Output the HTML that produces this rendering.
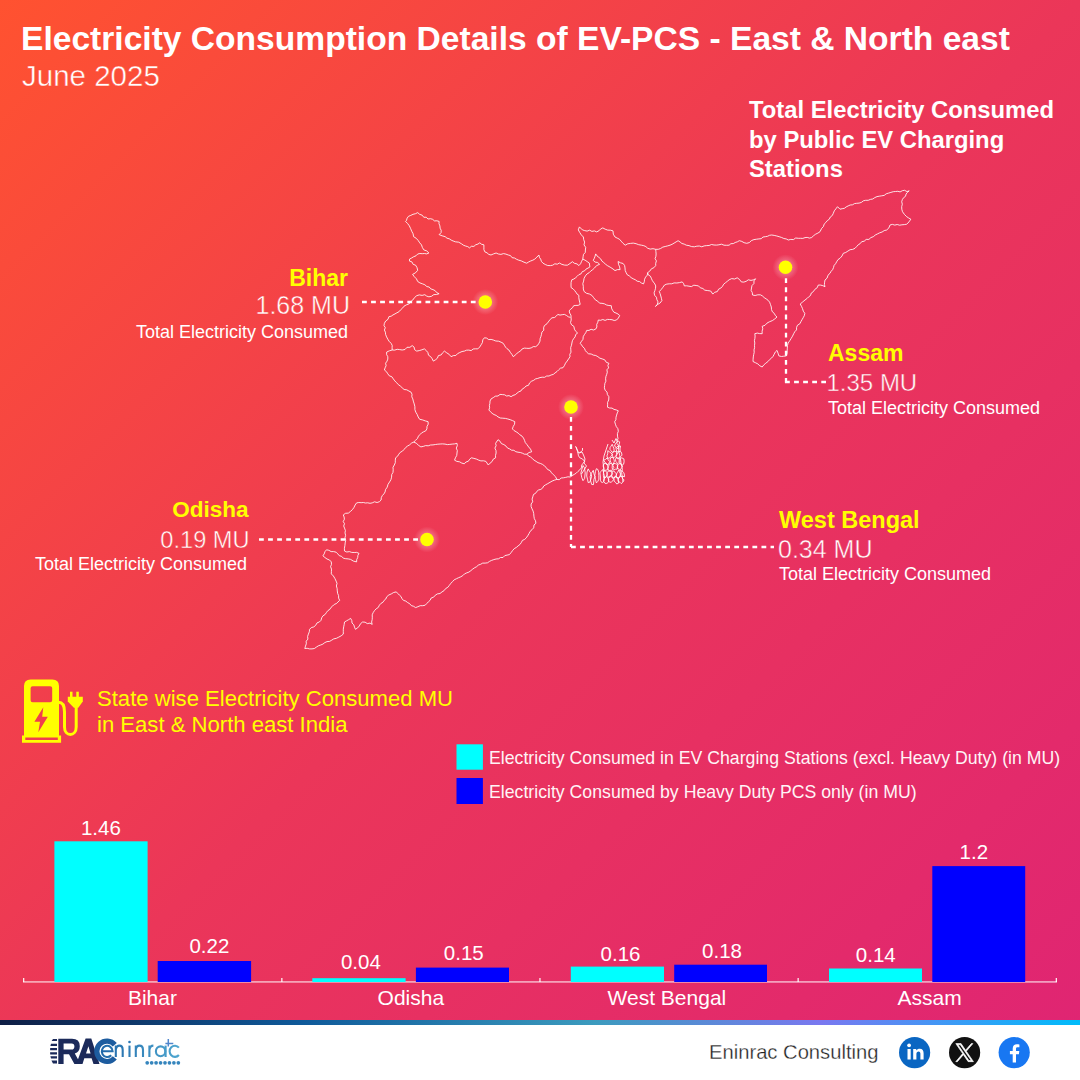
<!DOCTYPE html>
<html><head><meta charset="utf-8">
<style>
*{margin:0;padding:0;box-sizing:border-box}
html,body{width:1080px;height:1080px;overflow:hidden;background:#fff}
body{position:relative;font-family:"Liberation Sans",sans-serif}
#bg{position:absolute;left:0;top:0;width:1080px;height:1020px;background:linear-gradient(135deg,#FF5230 0%,#EB3659 50%,#DF2474 100%);background-size:1080px 1080px}
#stripe{position:absolute;left:0;top:1020px;width:1080px;height:5px;background:linear-gradient(90deg,#0E1E45 0%,#0F5A9A 28%,#3C9BBE 55%,#7A78F0 76%,#00BCFA 100%)}
.t{position:absolute;white-space:nowrap;line-height:1;color:#fff}
.b{font-weight:bold}
.y{color:#FFFF00}
.r{text-align:right}
svg{position:absolute;left:0;top:0}
</style></head><body>
<div id="bg"></div>
<div id="stripe"></div>

<div class="t b" id="title" style="left:21px;top:22px;font-size:33.6px">Electricity Consumption Details of EV-PCS - East &amp; North east</div>
<div class="t" id="june" style="left:22px;top:60.5px;font-size:29.5px;-webkit-text-stroke:0.45px #FC4E36">June 2025</div>

<div class="t b" id="tot1" style="left:749px;top:98px;font-size:23.8px">Total Electricity Consumed</div>
<div class="t b" id="tot2" style="left:749px;top:128px;font-size:23.8px">by Public EV Charging</div>
<div class="t b" id="tot3" style="left:749px;top:157px;font-size:23.8px">Stations</div>

<!-- Bihar -->
<div class="t b y" style="right:732px;top:267px;font-size:23px">Bihar</div>
<div class="t" style="right:730px;top:293.4px;font-size:25px;-webkit-text-stroke:0.45px #F44247">1.68 MU</div>
<div class="t" style="right:732px;top:323px;font-size:18px">Total Electricity Consumed</div>
<!-- Assam -->
<div class="t b y" style="left:828px;top:342px;font-size:23px">Assam</div>
<div class="t" style="left:826.5px;top:370.9px;font-size:24px;-webkit-text-stroke:0.45px #E9335D">1.35 MU</div>
<div class="t" style="left:828px;top:398.5px;font-size:18px">Total Electricity Consumed</div>
<!-- West Bengal -->
<div class="t b y" style="left:779px;top:508.5px;font-size:23.5px">West Bengal</div>
<div class="t" style="left:778px;top:537px;font-size:25px;-webkit-text-stroke:0.45px #E83160">0.34 MU</div>
<div class="t" style="left:779px;top:565px;font-size:18px">Total Electricity Consumed</div>
<!-- Odisha -->
<div class="t b y" style="right:831.5px;top:498.9px;font-size:22.5px">Odisha</div>
<div class="t" style="right:830.5px;top:529.2px;font-size:23.6px;-webkit-text-stroke:0.45px #F13F4C">0.19 MU</div>
<div class="t" style="right:833px;top:555px;font-size:18px">Total Electricity Consumed</div>

<svg width="1080" height="1080" viewBox="0 0 1080 1080">
<defs>
<radialGradient id="glow"><stop offset="0" stop-color="#fff" stop-opacity="0.5"/><stop offset="1" stop-color="#fff" stop-opacity="0"/></radialGradient>
</defs>
<g fill="none" stroke="#fff" stroke-opacity="0.85" stroke-width="1" stroke-linejoin="round">
<polyline points="406.5,220.4 407.1,218.2 408.5,216.3 410.8,215.4 413.0,214.3 415.5,213.7 417.7,212.6 419.6,214.3 422.2,215.2 423.8,217.3 426.2,217.2 428.0,219.0 430.5,218.7 432.6,219.3 434.5,220.9 436.9,220.8 439.1,221.4 439.0,223.7 439.9,225.9 440.1,228.2 441.2,230.3 441.1,232.6 439.1,234.6 442.1,235.8 445.2,236.7 447.0,238.2 449.3,238.8 451.2,240.1 453.2,241.0 455.4,241.8 458.7,242.2 461.5,243.8 463.4,245.2 465.5,246.0 467.7,246.6 469.6,247.9 471.3,246.3 473.9,246.4 475.7,244.8 477.9,244.1 479.8,242.8 481.6,244.3 483.9,244.8 483.9,247.2 483.9,249.6 484.9,251.9 487.0,252.8 488.8,254.4 491.0,255.0 493.5,253.9 496.1,253.0 498.4,254.0 500.9,254.4 503.5,253.6 505.9,254.1 508.3,255.0 510.5,255.6 512.1,257.7 514.5,258.0 516.4,259.2 518.5,260.1 521.3,260.9 524.0,262.2 526.7,263.2 528.6,262.0 530.6,261.0 532.8,260.2 534.8,259.1 536.9,257.1 538.9,255.0 539.4,257.3 540.7,259.2 541.4,261.4 543.0,263.2 545.3,264.5 547.7,265.5 550.4,265.6 552.7,265.2 554.8,263.8 557.3,264.2 559.4,263.0 561.9,264.4 564.6,265.1 567.4,265.2 570.0,263.5 572.4,261.7 574.4,263.3 577.0,263.9 578.9,265.6 580.6,263.7 581.6,261.3 582.8,259.1 583.1,256.7 583.5,254.4 585.3,252.4 585.4,250.0 585.7,247.3 584.0,244.9 584.6,242.1 583.7,239.6 583.4,237.0 581.3,234.9 579.7,232.4 578.3,229.9 579.4,226.9 582.4,229.9 584.7,230.6 587.1,231.1 589.6,230.2 591.9,231.4 594.4,230.9 596.7,231.9 598.9,230.8 600.6,229.0 602.8,227.9 605.2,229.2 607.7,230.1 610.4,230.2 613.0,230.9 613.3,234.2 615.0,237.0 617.2,238.1 619.4,239.2 621.1,241.1 623.0,243.3 625.2,245.2 627.7,243.8 630.5,243.4 633.3,243.1 636.1,243.7 638.7,244.7 641.5,245.2 643.8,245.7 645.9,246.6 647.6,248.2 650.2,249.1 653.0,248.7 655.7,249.3 658.3,249.3 660.6,248.5 662.8,247.1 665.2,246.5 667.6,245.9 670.0,245.2 672.1,244.3 674.1,243.1 676.1,241.9 678.1,240.7 680.1,242.0 681.9,243.5 684.2,244.1 686.3,245.2 689.0,245.6 691.6,246.6 694.4,246.8 696.8,246.2 699.3,246.0 701.8,246.8 704.2,245.9 706.7,245.6 709.1,245.5 711.5,244.5 714.0,245.0 716.5,245.1 718.9,244.8 721.5,244.2 724.0,245.2 726.5,245.3 729.1,245.2 730.9,243.7 733.3,243.6 735.2,242.5 737.4,241.8 739.3,240.7 741.8,241.4 744.1,242.7 746.7,243.3 749.3,242.6 751.4,240.6 753.9,239.6 756.7,239.2 758.9,238.9 761.2,238.7 763.0,237.0 765.3,236.7 767.5,236.3 769.5,235.3 771.7,235.0 774.2,235.4 776.8,236.0 779.2,236.7 781.7,237.5 783.8,238.5 786.2,238.9 788.3,240.0 790.8,239.4 793.4,239.6 795.7,238.0 798.3,238.3 800.5,238.3 802.8,238.4 805.0,237.6 807.2,237.4 809.5,238.1 811.7,237.5 813.6,235.7 815.6,234.2 817.9,233.1 820.0,231.7 821.7,228.3 823.4,226.6 824.1,224.2 825.8,222.5 827.3,220.6 829.3,219.2 830.3,217.0 832.3,215.5 833.3,213.3 834.3,210.8 835.9,208.8 837.5,206.7 840.0,209.2 842.2,208.7 844.4,208.3 846.2,206.9 848.2,205.9 850.2,205.0 852.5,204.8 854.5,203.6 856.7,203.3 859.1,203.1 861.4,202.4 863.4,200.8 865.7,200.3 868.2,200.3 870.4,199.4 872.7,199.0 874.8,197.6 877.0,196.6 879.3,196.2 881.7,195.8 884.2,195.4 886.2,193.8 888.6,193.1 890.9,192.4 893.3,191.7 895.6,191.5 897.8,191.3 900.1,191.9 902.4,190.7 904.6,190.3 907.0,191.6 909.2,190.8 907.5,192.3 906.1,194.0 905.5,196.3 903.6,197.7 902.4,199.5 901.7,201.7 902.3,204.2 901.7,206.7 901.8,209.2 902.5,211.7 904.4,214.4 906.7,216.7 908.7,218.0 910.8,219.2 909.0,221.9 906.7,224.2 904.3,224.6 901.9,224.8 899.6,225.2 897.2,224.5 894.8,225.1 892.4,224.4 890.0,225.0 888.9,227.9 886.7,230.0 884.2,230.6 882.1,232.0 879.7,232.8 877.5,233.9 875.3,235.0 873.3,236.7 870.9,237.6 868.9,239.4 866.2,239.4 864.2,241.2 861.7,241.7 860.2,243.6 858.2,244.8 856.6,246.6 855.0,248.3 852.7,249.4 850.1,249.7 847.9,251.1 845.7,252.5 843.3,253.3 842.0,256.0 840.0,258.3 838.0,259.6 836.7,261.7 835.6,263.7 834.1,265.4 833.5,267.6 832.6,269.7 831.1,271.3 830.0,273.3 828.0,275.2 827.1,278.1 825.0,280.0 824.6,282.2 824.4,284.5 825.0,286.7 822.9,285.7 820.7,285.1 818.3,285.0 817.2,287.7 814.8,289.4 813.3,291.7 811.3,293.0 810.5,295.5 808.6,296.9 806.9,298.6 805.0,300.0 802.6,302.0 800.2,304.0 801.5,306.3 802.5,308.6 803.3,311.2 804.8,313.3 804.3,315.7 803.2,317.7 802.0,319.7 800.9,321.7 799.8,323.8 797.5,325.2 796.6,327.3 796.5,329.9 794.8,331.7 793.7,333.7 792.5,336.2 791.1,338.5 789.7,340.8 788.1,343.0 787.5,345.5 787.3,348.1 787.2,350.8 787.1,353.4 786.3,355.9 783.8,356.2 781.4,356.5 778.9,355.9 778.0,353.1 777.0,350.4 775.3,352.0 774.2,354.2 773.1,356.3 771.5,358.1 769.6,359.6 767.9,361.6 765.8,363.2 763.8,364.9 762.2,367.0 759.8,365.8 757.8,363.9 755.4,362.7 753.0,361.5 753.1,359.2 753.3,356.9 753.7,354.6 754.2,352.3 754.0,349.9 754.6,347.7 754.5,345.3 754.8,343.0 754.4,340.7 754.9,338.4 755.1,336.0 754.8,333.7 757.3,333.1 759.7,333.6 762.2,333.7 762.1,331.2 762.8,328.8 762.2,326.3 765.0,325.3 767.0,323.1 769.6,321.7 772.4,320.6 774.8,318.9 777.0,317.0 775.3,315.4 774.2,313.3 772.4,311.8 771.5,309.6 771.3,307.0 770.5,304.6 769.6,302.2 768.1,300.3 766.2,298.9 764.2,297.6 762.5,296.0 760.4,294.8 757.8,294.8 755.1,295.5 752.5,295.0 752.3,292.6 751.1,290.4 751.5,288.0 752.0,285.5 753.9,283.6 754.0,280.8 755.6,278.8 753.3,279.9 751.0,280.4 748.3,279.8 746.2,281.3 743.8,282.1 741.3,281.9 739.6,279.5 737.2,277.8 734.6,279.0 731.7,278.6 729.1,279.8 727.3,281.3 725.5,282.7 723.7,284.2 722.5,286.3 720.9,288.0 718.6,289.2 717.3,291.6 714.6,292.3 712.8,294.1 710.7,291.0 707.8,290.6 704.8,290.2 702.9,288.5 700.3,287.8 698.5,285.9 696.1,285.5 693.8,285.2 691.4,286.6 689.0,286.2 686.7,285.8 684.3,285.9 683.7,283.7 682.2,281.9 679.5,282.6 676.9,283.0 674.1,282.9 671.8,283.8 669.3,283.8 666.8,284.1 664.5,285.0 662.9,287.3 661.2,289.5 659.3,291.5 660.1,293.7 660.8,296.0 661.4,298.3 661.9,300.6 660.1,303.0 657.6,304.5 655.4,306.4 657.3,304.5 658.0,301.9 656.9,299.7 656.4,297.2 654.6,295.3 654.1,292.8 654.9,290.6 655.5,288.3 655.7,285.9 654.8,283.9 653.4,282.1 652.2,280.3 651.3,278.2 650.4,276.2 648.3,274.9 647.6,272.7 647.3,275.1 645.6,277.1 644.6,279.2 644.3,281.7 643.5,283.9 641.4,283.0 639.6,281.6 637.2,281.2 635.4,279.8 633.2,278.8 631.1,277.6 629.3,275.9 627.2,274.7 626.1,272.6 625.2,270.4 625.0,267.9 624.6,265.5 623.1,263.5 620.5,262.8 618.1,261.5 618.5,264.3 619.6,266.9 620.1,269.6 617.4,269.6 615.0,270.6 613.0,269.0 610.9,267.6 607.4,265.6 605.5,264.2 603.8,262.6 601.9,261.1 600.7,258.9 598.9,257.4 597.0,255.9 595.7,253.9 595.1,256.1 594.3,258.3 593.2,260.4 595.1,262.1 597.7,262.5 599.6,264.3 596.6,265.6 594.4,268.1 592.6,269.7 590.7,271.1 589.0,272.8 586.9,274.0 585.4,275.9 584.1,278.3 583.6,281.1 582.8,283.7 583.3,286.3 583.3,289.0 584.1,291.5 586.5,293.3 589.4,294.0 591.9,295.4 593.6,297.6 595.3,299.8 597.7,301.2 599.6,303.2 602.0,303.3 604.4,303.8 606.6,305.0 608.9,305.5 611.3,305.7 611.5,308.1 612.5,310.2 613.9,312.2 616.0,313.0 618.0,314.0 619.7,315.5 618.4,318.0 616.5,320.0 614.2,320.5 612.0,319.7 609.7,319.5 607.4,319.4 605.1,320.4 602.8,319.5 600.6,320.3 598.3,320.0 597.8,322.3 596.7,324.5 596.9,327.0 595.7,329.1 593.5,330.0 591.1,329.3 589.0,330.4 586.7,330.4 585.8,332.6 584.4,334.6 583.2,336.7 583.0,339.3 581.5,341.3 580.2,343.3 581.6,345.0 582.8,346.8 584.5,348.4 585.3,350.5 586.7,352.2 588.6,353.8 591.2,354.0 593.3,355.1 595.8,355.5 597.9,356.7 599.9,358.2 602.2,358.9 604.8,359.9 606.3,362.3 608.9,363.3 607.9,365.4 608.6,367.9 606.9,369.8 607.3,372.2 606.7,374.4 605.9,376.6 605.6,378.8 605.9,381.2 604.9,383.3 604.6,385.5 604.4,387.8 605.1,390.2 607.0,392.1 607.4,394.6 608.9,396.7 608.7,400.0 607.6,402.3 607.6,404.8 607.5,407.2 609.6,408.0 612.0,408.1 614.0,409.4 616.2,409.9 618.3,410.8 617.3,412.9 616.6,415.1 616.0,417.3 615.9,419.7 614.7,421.7 615.4,424.2 616.3,426.6 617.9,428.7 618.3,431.3 617.4,433.6 617.5,436.1 618.0,438.6 617.1,440.9 616.9,443.4 618.5,445.6 618.7,448.1 618.6,450.6 619.2,453.0 619.7,455.4 620.0,457.8 620.7,460.2 621.0,462.6 621.5,465.0 622.0,467.4 622.4,469.8 621.7,472.3 621.9,474.7 622.5,477.1 622.5,479.5 623.1,481.9"/>
<polyline points="655.7,249.3 655.9,251.6 656.1,254.0 655.9,256.3 655.1,258.6 656.4,260.9 655.7,263.3 655.7,265.6 653.9,267.7 651.4,268.8 649.8,271.1 647.6,272.7"/>
<polyline points="582.8,259.1 585.1,260.2 587.2,261.6 589.3,263.0 589.9,266.9 588.0,268.1 586.0,269.1 584.5,270.9 582.3,271.6 581.1,273.8 578.9,274.6 577.3,276.2 575.7,277.7 573.9,279.0 571.8,279.8 571.1,282.4 571.0,285.0 571.1,287.6 573.0,288.8 574.5,290.4 575.9,292.2 577.1,294.1 578.9,295.4 578.8,297.7 579.2,300.0 579.7,302.2 580.2,304.4 578.1,305.4 575.9,305.4 573.7,305.7 572.5,307.7 570.7,309.1 569.2,310.9 569.7,313.1 570.9,315.1 571.1,317.4 571.2,320.0 570.5,322.6 571.6,324.9 573.9,326.4 574.4,329.1 575.7,331.3 577.6,333.0 575.7,334.5 575.1,336.9 573.6,338.7 572.4,340.7 571.9,343.0 571.5,345.2 570.7,347.5 570.8,349.8 571.0,352.2 569.8,354.3 570.0,356.7 568.6,358.9 567.1,361.1 565.5,363.2 564.4,365.6 563.0,367.7 560.4,368.2 558.7,369.8 557.0,371.5 555.1,372.9 553.3,374.4 551.1,375.0 549.0,376.0 546.7,376.0 544.6,377.3 542.2,377.2 540.0,377.6 537.8,378.4 535.6,378.9 533.7,380.3 531.4,381.3 529.6,382.9 528.5,385.3 526.0,386.0 524.4,387.8 522.4,388.9 521.0,390.9 518.8,391.8 517.0,393.2 515.3,394.7 513.0,395.4 511.1,396.7 509.0,395.6 506.6,396.0 504.6,394.8 502.3,394.6 500.0,394.4 498.0,396.0 495.3,396.2 493.3,397.6 491.1,398.9 490.0,401.0 489.9,403.3 489.4,405.5 489.6,407.8 488.9,410.0 490.4,411.7 492.1,413.3 494.0,414.6 496.2,415.4 498.0,416.9 500.3,418.0 502.8,418.2 505.4,418.4 507.8,419.0 510.2,419.7 512.5,420.6 514.8,421.7 514.5,424.3 513.2,426.5 512.4,428.9 514.1,430.6 516.2,431.8 518.2,433.1 519.9,434.8 522.0,436.1 523.5,438.1 524.5,440.3 525.3,442.6 526.9,444.5 528.6,446.9 530.5,449.1 531.7,451.8 529.0,452.5 526.9,454.2 528.5,456.0 530.6,457.0 532.4,458.6 534.1,460.2 536.1,461.4 538.0,462.7 540.3,463.4 542.5,464.4 544.3,465.8 546.1,467.4 547.6,469.5 550.1,470.6 551.5,472.8 553.3,474.6 555.5,476.7 556.9,479.4"/>
<polyline points="406.5,220.4 405.5,221.4 407.6,223.5 409.3,225.8 410.6,228.5 411.7,231.2 413.1,233.8 413.6,236.7 416.1,238.2 418.1,240.4 419.7,242.8 421.5,244.9 422.4,247.5 423.8,249.9 426.7,250.9 428.9,253.0 426.7,253.9 424.4,253.5 422.2,253.7 419.9,253.5 417.7,254.0 416.0,255.8 413.7,256.7 411.6,258.0 409.5,259.1 409.5,261.1 411.9,261.9 413.2,264.4 415.6,265.2 417.0,267.6 417.7,270.3 415.5,272.8 412.6,274.4 414.3,276.7 416.4,278.8 417.7,281.5 419.9,282.9 422.4,283.8 424.9,284.8 426.9,286.6 429.2,287.0 430.8,288.9 433.0,289.6 435.2,290.7 436.8,292.7 439.1,293.7 436.6,294.5 433.8,294.6 431.5,296.3 428.9,296.8 426.7,296.1 424.8,294.7 422.1,295.4 419.3,294.9 416.7,295.7 414.5,297.6 412.8,300.0 410.6,301.9 408.9,304.0 406.3,304.9 404.0,306.2 402.4,308.3 400.4,310.0 398.9,311.8 396.9,312.8 395.0,313.9 393.0,314.9 391.2,316.2 388.9,316.7 388.0,319.3 385.7,321.0 384.4,323.3 384.0,325.6 385.3,327.7 384.4,330.0 385.4,332.2 385.6,334.4 386.6,336.9 387.8,339.2 389.2,341.4 391.1,343.3 392.2,345.4 392.1,347.7 392.2,350.0 389.4,350.8 386.7,352.0 386.6,354.5 387.8,356.7 387.8,359.1 387.0,361.2 385.6,363.2 386.1,365.7 385.1,367.8 384.4,370.0 386.4,371.6 387.8,373.8 389.3,375.8 391.9,376.8 393.3,378.9 394.8,380.9 396.6,382.7 398.3,384.6 400.4,386.1 402.2,387.8 404.1,389.5 406.7,389.8 408.9,391.0 411.1,392.2 412.0,394.3 411.8,396.8 412.8,398.9 413.3,401.1 414.2,403.9 414.9,406.7 414.9,409.6 415.8,412.2 417.2,414.5 418.2,417.0 419.7,419.3 422.5,419.9 425.3,420.9 428.1,421.7 428.2,424.2 427.0,426.4 426.9,428.9 425.7,430.9 423.6,431.8 421.6,432.9 420.0,434.5 418.5,436.1 417.4,438.5 415.6,440.3 413.7,442.1 411.5,443.1 409.7,444.8 407.6,446.0 405.7,447.5 404.1,449.4 402.5,451.1 400.3,452.3 398.8,454.2 397.5,456.3 395.6,457.8 395.3,460.2 395.3,462.7 394.3,465.0 393.0,467.3 393.2,469.8 393.0,472.4 391.7,474.6 391.6,477.2 390.9,479.7 389.6,481.9 388.0,484.4 387.2,487.2 385.5,489.6 385.1,491.9 383.9,493.9 382.3,495.6 381.3,497.6 381.1,500.0 379.4,501.7 377.1,502.5 374.5,501.8 372.2,502.9 370.0,503.3 367.7,502.8 365.5,503.0 363.3,502.5 361.1,502.7 358.8,502.5 356.6,502.9 355.1,505.0 354.0,507.4 352.5,509.5 350.6,511.3 348.4,513.1 345.5,513.3 343.3,514.9 344.1,517.0 344.4,519.2 343.2,521.6 344.5,523.7 343.7,526.0 344.5,528.1 345.4,530.5 345.0,532.9 345.6,535.3 345.0,537.8 345.7,540.2 345.2,542.9 344.9,545.6 344.4,548.3 344.5,551.0 346.8,552.0 349.4,551.6 351.7,552.4 354.2,552.5 356.7,552.4 359.0,553.4 357.9,555.4 357.7,557.6 356.7,559.6 356.6,561.9 353.4,561.1 350.6,559.4 348.2,558.9 345.7,558.7 343.3,558.2 341.7,556.4 339.3,555.7 337.8,553.9 336.1,552.2 333.7,551.6 331.1,551.6 328.9,550.3 326.5,549.8 325.0,551.6 324.2,553.9 322.9,555.8 324.9,557.5 327.0,559.0 329.5,560.0 331.3,561.9 331.5,564.3 330.6,566.7 331.5,569.1 331.4,571.5 331.3,573.9 333.4,576.0 334.9,578.5 336.1,581.1 337.0,583.4 336.4,586.0 337.1,588.4 337.3,590.9 337.6,593.3 338.6,595.6 338.6,598.1 339.7,600.4 338.0,601.9 336.5,603.5 334.3,604.4 332.7,606.0 331.0,607.4 329.8,609.4 327.9,610.6 326.5,612.4 325.2,614.4 323.0,615.8 321.7,617.8 321.0,620.3 319.3,622.0 317.0,622.9 315.7,625.3 313.8,626.9 311.3,627.6 309.6,629.3 309.3,631.8 308.4,634.1 307.6,636.4 307.9,639.1 306.2,641.2 306.3,643.8 305.5,646.1 304.8,648.5 307.2,648.3 309.6,648.9 312.0,648.9 314.4,648.5 316.4,647.1 318.4,645.8 320.7,645.0 322.9,644.1 324.8,642.6 327.0,641.6 329.6,641.4 331.7,640.2 333.7,638.9 336.4,638.3 338.8,637.1 341.2,635.8 343.3,634.1 343.3,631.7 343.3,629.2 343.7,626.8 344.2,624.4 344.5,622.0 346.6,620.8 348.6,619.7 350.6,618.4 351.8,620.5 352.0,623.0 353.8,624.8 354.5,627.1 355.4,629.3 357.6,627.9 359.3,626.0 360.6,623.6 362.6,622.0 365.1,622.2 367.3,623.6 370.0,623.1 372.2,624.4 371.6,622.0 372.2,619.6 372.3,617.2 372.2,614.8 373.2,612.6 374.5,610.6 376.2,608.8 378.3,607.4 379.4,605.2 380.8,603.5 382.9,602.3 384.1,600.4 385.8,599.0 386.7,596.8 388.8,595.0 391.3,593.9 393.6,592.5 396.3,591.9 397.8,593.5 399.4,595.1 401.1,596.6 402.0,598.7 403.5,600.4 405.8,601.1 407.7,602.6 409.7,603.7 411.3,605.6 413.6,606.3 415.6,607.6 417.9,606.7 420.2,605.7 422.8,605.7 425.2,605.2 426.8,603.5 428.4,601.8 430.2,600.2 431.2,598.0 433.6,597.2 435.3,595.2 437.4,593.9 440.0,593.5 442.0,591.9 444.1,590.6 445.6,588.6 447.8,587.3 449.3,585.4 450.8,583.4 452.5,581.6 454.2,579.8 456.5,578.7 458.6,577.7 460.8,576.8 462.8,575.6 464.5,573.9 466.7,572.9 468.9,572.1 470.8,570.7 472.6,569.2 474.5,567.8 476.6,566.7 478.3,565.1 480.6,564.3 482.7,563.1 485.1,563.1 487.5,562.8 489.5,561.4 491.6,560.4 493.8,559.6 496.1,559.0 498.5,558.8 500.5,557.5 503.0,557.5 504.8,555.6 507.1,555.1 509.4,554.6 511.1,552.6 512.6,550.5 514.3,548.6 516.4,547.4 518.1,545.9 519.9,544.5 521.3,542.6 522.4,540.4 524.7,539.4 526.3,537.8 527.7,535.8 529.0,533.6 530.1,531.4 532.0,529.7 533.7,527.8 534.0,525.0 535.9,523.3 535.5,520.8 534.3,518.6 533.9,516.1 533.7,513.5 533.1,511.1 532.0,508.8 531.1,506.5 531.1,504.0 532.7,501.8 532.1,499.1 532.8,496.8 533.5,494.4 535.5,493.4 536.8,491.4 538.5,490.0 540.8,489.4 542.6,488.1 543.7,486.0 545.6,484.8 547.8,483.6 550.0,482.3 552.1,481.1 554.5,480.1 556.9,479.4 559.2,479.7 561.2,478.0 563.5,477.8 565.7,477.4 567.9,476.8 570.2,477.0 572.1,475.6 574.3,474.4 576.3,473.1 578.0,471.4 579.8,469.8 581.4,467.9 581.6,465.2 583.1,463.3 584.6,461.4 582.6,459.0 579.8,457.8 578.5,455.8 578.0,453.5 577.6,451.3 576.6,449.2 576.2,446.9"/>
<polyline points="392.2,350.0 394.7,350.1 397.2,349.3 399.7,349.6 402.2,350.0 405.0,349.5 407.0,347.3 409.9,347.3 412.2,345.6 414.1,347.1 414.6,349.7 416.7,351.1 419.3,350.6 421.9,349.8 424.4,348.9 426.3,350.6 427.9,352.6 428.5,355.2 430.7,356.7 432.2,358.8 433.3,361.1 435.5,359.8 437.4,358.2 438.4,355.6 441.2,354.9 442.6,352.8 444.4,351.1 446.7,352.8 449.2,354.4 451.1,356.7 453.3,355.6 455.8,355.5 457.6,353.6 459.8,352.5 462.0,351.5 464.4,351.1 466.5,350.2 468.8,350.1 471.2,350.6 473.2,349.0 475.5,348.8 477.8,348.9 479.7,347.0 481.1,344.8 482.4,342.6 482.8,339.8 484.4,337.8 486.7,338.1 488.7,339.6 491.1,339.4 493.3,340.0 495.8,341.0 498.6,341.2 501.1,342.2 503.2,343.3 504.4,345.2 505.5,347.1 507.0,348.7 508.9,350.0 510.3,352.3 511.9,354.4 513.3,356.7 515.1,355.2 516.8,353.5 518.7,352.1 520.7,350.8 522.2,348.9 524.4,348.1 526.7,348.3 529.0,348.4 531.2,347.9 533.3,346.6 535.6,346.7 537.6,345.3 538.9,343.3 540.0,341.1 540.1,338.7 540.9,336.6 541.5,334.3 541.9,332.1 543.8,330.2 543.6,327.8 544.4,325.6 547.0,323.7 548.9,321.1 550.3,319.3 552.0,317.8 554.6,317.5 556.3,316.1 557.8,314.4 560.0,315.1 562.2,314.7 564.4,314.4 566.4,315.4 568.3,316.8 570.5,317.4"/>
<path d="M591.7,476.1 L590.7,479.9 L589.6,482.3 L588.2,482.6 L587.5,479.2 L586.7,476.1 L587.0,472.0 L588.2,468.9 L589.5,471.4 L590.5,472.7 Z M595.0,476.6 L593.9,479.4 L593.5,484.6 L591.7,484.5 L590.6,480.8 L590.2,476.6 L591.2,473.6 L592.1,472.2 L593.3,470.3 L593.9,473.8 Z M598.8,475.5 L598.9,479.2 L597.8,481.4 L596.4,482.9 L595.4,479.3 L594.8,475.5 L595.4,471.7 L596.4,468.7 L597.9,469.5 L598.7,472.2 Z M604.6,477.0 L604.0,481.3 L602.6,482.5 L601.4,482.2 L600.4,480.3 L600.4,477.0 L599.9,472.6 L601.4,471.2 L602.8,469.5 L603.7,473.4 Z M619.1,444.6 L619.0,446.3 L618.1,448.9 L616.4,447.4 L614.5,446.1 L615.5,443.5 L616.7,442.5 L618.0,440.9 L619.7,441.9 Z M613.8,448.3 L614.2,451.2 L612.2,452.3 L610.8,450.5 L609.9,449.3 L610.1,447.5 L610.9,446.3 L612.2,444.3 L613.1,446.6 Z M620.0,448.9 L620.2,451.5 L618.4,451.4 L616.8,452.2 L616.4,449.8 L615.9,447.8 L617.1,446.6 L618.4,446.1 L620.5,446.0 Z M612.4,454.7 L610.8,456.4 L609.8,457.8 L607.9,458.4 L606.9,456.0 L607.7,453.8 L607.8,450.7 L609.7,452.0 L610.9,452.9 Z M616.4,454.7 L615.6,456.3 L614.6,457.1 L613.1,457.8 L612.5,455.7 L611.9,453.5 L613.2,452.0 L614.7,451.5 L616.8,451.8 Z M622.0,455.1 L620.4,456.8 L619.3,457.7 L617.4,458.9 L616.2,456.5 L617.1,454.2 L618.0,452.8 L619.5,451.2 L621.4,452.3 Z M609.7,461.7 L608.6,464.1 L607.0,464.9 L605.8,463.8 L605.1,462.5 L603.7,460.2 L605.7,459.3 L607.1,457.9 L608.2,459.9 Z M614.4,461.2 L613.8,462.8 L612.9,465.0 L611.6,463.2 L610.6,462.1 L610.0,459.9 L610.9,457.5 L612.8,457.5 L613.9,459.3 Z M619.1,460.5 L619.0,462.4 L617.9,463.7 L616.7,462.6 L615.8,461.4 L615.5,459.5 L616.2,457.4 L617.8,458.0 L619.2,458.6 Z M624.1,461.8 L623.6,464.2 L621.9,465.3 L620.6,464.0 L619.9,462.6 L620.0,461.0 L619.9,458.0 L621.9,457.9 L623.9,458.9 Z M607.8,467.2 L607.6,469.8 L605.8,470.1 L603.8,471.2 L603.8,468.0 L603.1,466.0 L604.0,463.8 L606.0,462.9 L607.6,464.7 Z M613.8,467.5 L612.4,469.4 L611.2,471.3 L609.2,471.2 L607.9,468.9 L608.6,466.4 L609.3,463.9 L611.3,463.3 L612.7,465.2 Z M617.7,466.8 L617.1,469.2 L615.4,469.2 L613.8,470.0 L612.1,468.4 L612.3,465.3 L613.8,463.4 L615.5,463.7 L617.3,464.3 Z M622.6,466.9 L620.9,468.5 L620.1,470.8 L618.8,468.9 L617.2,468.2 L617.4,465.8 L618.6,464.5 L620.1,463.1 L621.4,464.7 Z M607.1,474.7 L606.3,476.1 L605.5,477.6 L603.8,478.0 L603.4,475.6 L603.4,473.8 L603.6,470.9 L605.6,470.9 L606.9,472.6 Z M612.6,473.7 L611.4,475.4 L610.4,476.9 L608.5,477.3 L607.1,475.2 L607.1,472.3 L608.9,471.0 L610.4,470.2 L611.6,471.8 Z M616.5,474.0 L615.9,476.7 L614.0,477.8 L612.0,477.9 L611.7,475.0 L611.8,473.1 L612.4,471.2 L613.9,471.2 L615.0,472.2 Z M620.8,474.2 L620.0,476.1 L618.9,478.3 L616.8,478.1 L616.2,475.3 L616.8,473.4 L617.6,472.2 L618.9,470.0 L619.6,472.7 Z M624.3,474.1 L624.5,476.7 L622.5,476.3 L621.4,476.3 L620.1,475.2 L620.7,473.3 L620.8,470.5 L622.6,471.4 L623.6,472.5 Z M608.8,479.7 L608.5,482.1 L606.9,483.4 L605.0,483.3 L603.5,481.2 L603.9,478.4 L605.5,477.4 L606.9,476.4 L607.9,478.0 Z M613.7,479.5 L612.3,481.2 L611.3,482.3 L609.8,482.1 L608.3,480.8 L608.6,478.3 L609.6,476.3 L611.4,475.5 L612.6,477.4 Z M618.1,480.1 L618.7,483.0 L616.8,484.0 L615.5,482.3 L614.2,481.3 L613.9,478.9 L614.8,476.4 L616.7,477.1 L618.3,477.9 Z M624.1,480.0 L622.7,482.1 L621.4,483.7 L620.0,482.3 L618.3,481.3 L618.2,478.6 L619.6,476.7 L621.4,476.1 L622.4,478.2 Z M575.4,446.2 L577,449 L578.5,453 L582,452 L583.5,455 L585,459 L584,463 L586.5,466 L584,470 L581.5,474 M579.5,453 L582.5,450.5 L582.5,448 M585.2,473.0 L584.6,478.5 L583.0,480.7 L581.7,477.3 L580.9,473.0 L581.9,469.2 L583.0,465.5 L584.5,467.9 Z M612,440 L614,443 L616,438.5 L617,441 M608,444 L606,450 L604,456 L603,462 L604,470"/>
<polyline points="413.7,442.1 416.4,443.2 418.5,445.4 420.9,446.9 423.3,446.4 425.6,445.6 428.2,445.8 430.5,445.0 433.0,444.9 435.4,444.5 437.8,444.2 440.2,444.0 442.6,443.9 445.0,444.1 447.4,444.6 449.8,444.4 452.2,444.1 454.6,443.9 457.0,443.3 457.3,445.7 456.3,448.1 457.3,450.6 457.0,453.0 456.7,455.6 455.4,457.8 454.6,460.2 456.9,461.4 459.5,461.8 461.8,463.1 464.3,463.8 465.9,462.0 468.3,461.3 469.7,459.2 471.5,457.8 473.9,458.4 476.3,459.0 478.6,460.1 480.9,460.9 483.5,460.8 485.9,461.4 488.3,465.0 490.1,463.1 492.1,461.5 493.3,459.1 495.6,457.8 495.5,455.4 496.1,453.0 496.0,450.6 494.9,448.1 496.1,445.7 495.6,443.3 498.0,439.7 500.0,441.2 501.4,443.6 503.9,444.6 506.0,446.1 507.6,448.1 509.7,448.9 511.6,450.2 513.9,450.3 515.8,451.7 518.0,452.2 520.3,452.5 522.4,453.2 524.4,454.2 526.9,454.2"/>

</g>
<!-- dashed leaders -->
<g stroke="#fff" stroke-width="2.3" stroke-dasharray="4.8 4.27" fill="none">
<line x1="362" y1="302" x2="476" y2="302"/>
<line x1="786" y1="278.3" x2="786" y2="383"/>
<line x1="785" y1="382" x2="826" y2="382"/>
<line x1="571" y1="417" x2="571" y2="547"/>
<line x1="571" y1="547" x2="774" y2="547"/>
<line x1="259" y1="539.5" x2="420" y2="539.5"/>
</g>
<g>
<circle cx="485.3" cy="302" r="13" fill="url(#glow)"/><circle cx="485.3" cy="302" r="6.8" fill="#FFFF00"/>
<circle cx="785.5" cy="267.3" r="13" fill="url(#glow)"/><circle cx="785.5" cy="267.3" r="6.8" fill="#FFFF00"/>
<circle cx="571" cy="407" r="13" fill="url(#glow)"/><circle cx="571" cy="407" r="6.8" fill="#FFFF00"/>
<circle cx="427" cy="539.5" r="13" fill="url(#glow)"/><circle cx="427" cy="539.5" r="6.8" fill="#FFFF00"/>
</g>
</svg>

<!-- chart header -->
<svg width="1080" height="1080" viewBox="0 0 1080 1080" style="position:absolute;left:0;top:0">
<g fill="#FFFF00">
<path fill-rule="evenodd" d="M24,737 V686 Q24,679.4 30.6,679.4 H52.4 Q59,679.4 59,686 V737 Z M32.6,686.2 H50.2 Q52.2,686.2 52.2,688.2 V700.2 Q52.2,702.2 50.2,702.2 H32.6 Q30.6,702.2 30.6,700.2 V688.2 Q30.6,686.2 32.6,686.2 Z M43.3,707.2 L34.4,721.7 H40 L38.3,732.2 L47.8,716.7 H42.2 Z"/>
<path fill-rule="evenodd" d="M22,735.6 H61.1 V742.8 H22 Z M25.3,737.4 V740 H57.8 V737.4 Z"/>
<path d="M67.8,696.7 H82.8 V701.5 L78.3,707.8 H73.9 L67.8,701.5 Z"/>
<rect x="70" y="691.7" width="2.5" height="5.5"/>
<rect x="76.3" y="691.7" width="2.5" height="5.5"/>
</g>
<path d="M58.5,702.3 C63.5,702.3 64.5,707 64.5,712 V727 C64.5,737 76.2,737 76.2,727 V707" fill="none" stroke="#FFFF00" stroke-width="3"/>
<!-- legend -->
<rect x="456.5" y="744.3" width="26.4" height="25.4" fill="#00FFFF"/>
<rect x="456.5" y="778" width="26.4" height="26" fill="#0000FF"/>
<!-- axis -->
<rect x="23" y="981.1" width="1034" height="1.6" fill="rgba(255,255,255,0.62)"/>
<g fill="rgba(255,255,255,0.9)">
<rect x="23" y="978" width="1.3" height="4"/>
<rect x="281.2" y="978" width="1.3" height="4"/>
<rect x="539.3" y="978" width="1.3" height="4"/>
<rect x="797.5" y="978" width="1.3" height="4"/>
<rect x="1055.7" y="978" width="1.3" height="4"/>
</g>
<!-- bars -->
<g fill="#00FFFF">
<rect x="54.4" y="841.3" width="93.2" height="140.7"/>
<rect x="312.3" y="978.2" width="93.3" height="3.8"/>
<rect x="570.8" y="966.6" width="93.2" height="15.4"/>
<rect x="829" y="968.5" width="93" height="13.5"/>
</g>
<g fill="#0000FF">
<rect x="157.7" y="961" width="93.4" height="21"/>
<rect x="415.9" y="967.6" width="93.1" height="14.4"/>
<rect x="674.2" y="964.7" width="92.8" height="17.3"/>
<rect x="932.3" y="866.1" width="92.9" height="115.9"/>
</g>
<!-- footer logo -->
<defs><linearGradient id="lg" x1="100" y1="0" x2="180" y2="0" gradientUnits="userSpaceOnUse"><stop offset="0" stop-color="#1F66A8"/><stop offset="1" stop-color="#4FA7D0"/></linearGradient></defs>
<g fill="#1B2A5A">
<path d="M53,1038.9 H57 V1041.1 H51.6 Z M51,1043.8 H57 V1046 H50.4 Z M50.2,1048.1 H57 V1050.3 H50.1 Z M50.1,1052.3 H57 V1054.5 H50.2 Z M50.4,1056.3 H57 V1058.5 H51 Z M51.4,1060.4 H57 V1063.6 H53 Z"/>
<path fill-rule="evenodd" d="M58.3,1038.8 H72 Q79.8,1038.8 79.8,1046.2 Q79.8,1052 74.8,1053.4 L80.6,1064 H74.4 L69,1054.2 H63.6 V1064 H58.3 Z M63.6,1043.4 V1049.5 H71.6 Q74.4,1049.5 74.4,1046.4 Q74.4,1043.4 71.6,1043.4 Z"/>
<path fill-rule="evenodd" d="M85.6,1038.6 H91.3 L99.5,1064 H93.5 L91.6,1058.2 H84.3 L82.5,1064 H76.3 Z M88.4,1046.3 L86,1053.4 H90.6 Z"/>
</g>
<path d="M116.81,1043.07 A12.8,12.8 0 1 0 116.81,1059.53 L112.82,1056.19 A7.6,7.6 0 1 1 112.82,1046.41 Z" fill="#1D5C9F"/>
<g fill="none" stroke="url(#lg)" stroke-width="2.1">
<path d="M101.8,1051.2 H112.6 A5.4,5.6 0 1 0 111.2,1055.2"/>
<path d="M115.8,1057 V1045.6 M115.8,1049.8 Q116.5,1045.6 119.3,1045.6 Q122.7,1045.6 122.7,1050 V1057"/>
<path d="M129.5,1057 V1045.6"/>
<path d="M135.8,1057 V1045.6 M135.8,1049.8 Q136.5,1045.6 139.3,1045.6 Q143,1045.6 143,1050 V1057"/>
<path d="M149.4,1057 V1045.6 M149.4,1050 Q150,1045.6 153.4,1045.6"/>
<ellipse cx="160.6" cy="1051.3" rx="4.7" ry="4.9"/>
<path d="M165.6,1045.6 V1057"/>
<path d="M178.9,1047.6 A5.3,5.6 0 1 0 178.9,1055"/>
</g>
<circle cx="129.5" cy="1042" r="1.3" fill="#2A77B4"/>
<g stroke="#4F86CC" stroke-width="1.5"><path d="M168.3,1039 V1046.5 M165.4,1043.6 H173.3"/></g>
<g fill="#3585BD">
<circle cx="147.20" cy="1062.8" r="1.85"/><circle cx="151.65" cy="1062.8" r="1.85"/><circle cx="156.10" cy="1062.8" r="1.85"/><circle cx="160.55" cy="1062.8" r="1.85"/><circle cx="165.00" cy="1062.8" r="1.85"/><circle cx="169.45" cy="1062.8" r="1.85"/><circle cx="173.90" cy="1062.8" r="1.85"/><circle cx="178.35" cy="1062.8" r="1.85"/>
</g>
<!-- social -->
<circle cx="914.6" cy="1052.6" r="15.6" fill="#0A66C2"/>
<circle cx="964.6" cy="1052.6" r="15.6" fill="#111111"/>
<circle cx="1014.2" cy="1052.6" r="15.6" fill="#1877F2"/>
<g fill="#fff">
<rect x="907.5" y="1049" width="3.2" height="10.5"/>
<circle cx="909.1" cy="1045.3" r="1.9"/>
<path d="M913.2,1049 H916.2 V1050.6 C917,1049.3 918.3,1048.7 919.8,1048.7 C922.5,1048.7 923.6,1050.4 923.6,1053.3 V1059.5 H920.4 V1053.8 C920.4,1052.3 919.9,1051.4 918.6,1051.4 C917.2,1051.4 916.4,1052.4 916.4,1054 V1059.5 H913.2 Z"/>
<path d="M1016,1062.5 V1054.2 H1018.9 L1019.3,1050.9 H1016 V1048.9 C1016,1047.9 1016.3,1047.3 1017.6,1047.3 H1019.4 V1044.4 C1019,1044.3 1018,1044.2 1016.9,1044.2 C1014.4,1044.2 1012.7,1045.7 1012.7,1048.5 V1050.9 H1009.9 V1054.2 H1012.7 V1062.5 Z"/>
</g>
<path transform="translate(955.8,1043.6) scale(0.0147)" fill="#fff" stroke="#fff" stroke-width="45" d="M714.163 519.284L1160.89 0H1055.03L667.137 450.887L357.328 0H0L468.492 681.821L0 1226.37H105.866L515.491 750.218L842.672 1226.37H1200L714.137 519.284H714.163ZM569.165 687.828L521.697 619.934L144.011 79.6944H306.615L611.412 515.685L658.88 583.579L1055.08 1150.3H892.476L569.165 687.854V687.828Z"/>
</svg>

<div class="t y" style="left:97px;top:688px;font-size:22.1px">State wise Electricity Consumed MU</div>
<div class="t y" style="left:97px;top:714px;font-size:22.1px">in East &amp; North east India</div>
<div class="t" style="left:489px;top:749.5px;font-size:17.7px;color:#FFF4F6">Electricity Consumed in EV Charging Stations (excl. Heavy Duty) (in MU)</div>
<div class="t" style="left:489px;top:783.5px;font-size:17.7px;color:#FFF4F6">Electricity Consumed by Heavy Duty PCS only (in MU)</div>

<!-- value labels -->
<div class="t" style="left:50.9px;width:100px;text-align:center;top:817.6px;font-size:20.5px">1.46</div>
<div class="t" style="left:159.4px;width:100px;text-align:center;top:936.0px;font-size:20.5px">0.22</div>
<div class="t" style="left:310.9px;width:100px;text-align:center;top:952.1px;font-size:20.5px">0.04</div>
<div class="t" style="left:413.8px;width:100px;text-align:center;top:943.0px;font-size:20.5px">0.15</div>
<div class="t" style="left:570.5px;width:100px;text-align:center;top:943.6px;font-size:20.5px">0.16</div>
<div class="t" style="left:672.0px;width:100px;text-align:center;top:940.6px;font-size:20.5px">0.18</div>
<div class="t" style="left:825.8px;width:100px;text-align:center;top:945.1px;font-size:20.5px">0.14</div>
<div class="t" style="left:923.8px;width:100px;text-align:center;top:842.1px;font-size:20.5px">1.2</div>
<!-- category labels -->
<div class="t" style="left:52.4px;width:200px;text-align:center;top:987.2px;font-size:21.0px">Bihar</div>
<div class="t" style="left:310.9px;width:200px;text-align:center;top:987.2px;font-size:21.0px">Odisha</div>
<div class="t" style="left:566.9px;width:200px;text-align:center;top:987.2px;font-size:21.0px">West Bengal</div>
<div class="t" style="left:829.6px;width:200px;text-align:center;top:987.2px;font-size:21.0px">Assam</div>
<!-- footer text -->
<div class="t" style="left:709px;top:1041.5px;font-size:20.2px;color:#222;-webkit-text-stroke:0.3px #fff">Eninrac Consulting</div>

</body></html>
